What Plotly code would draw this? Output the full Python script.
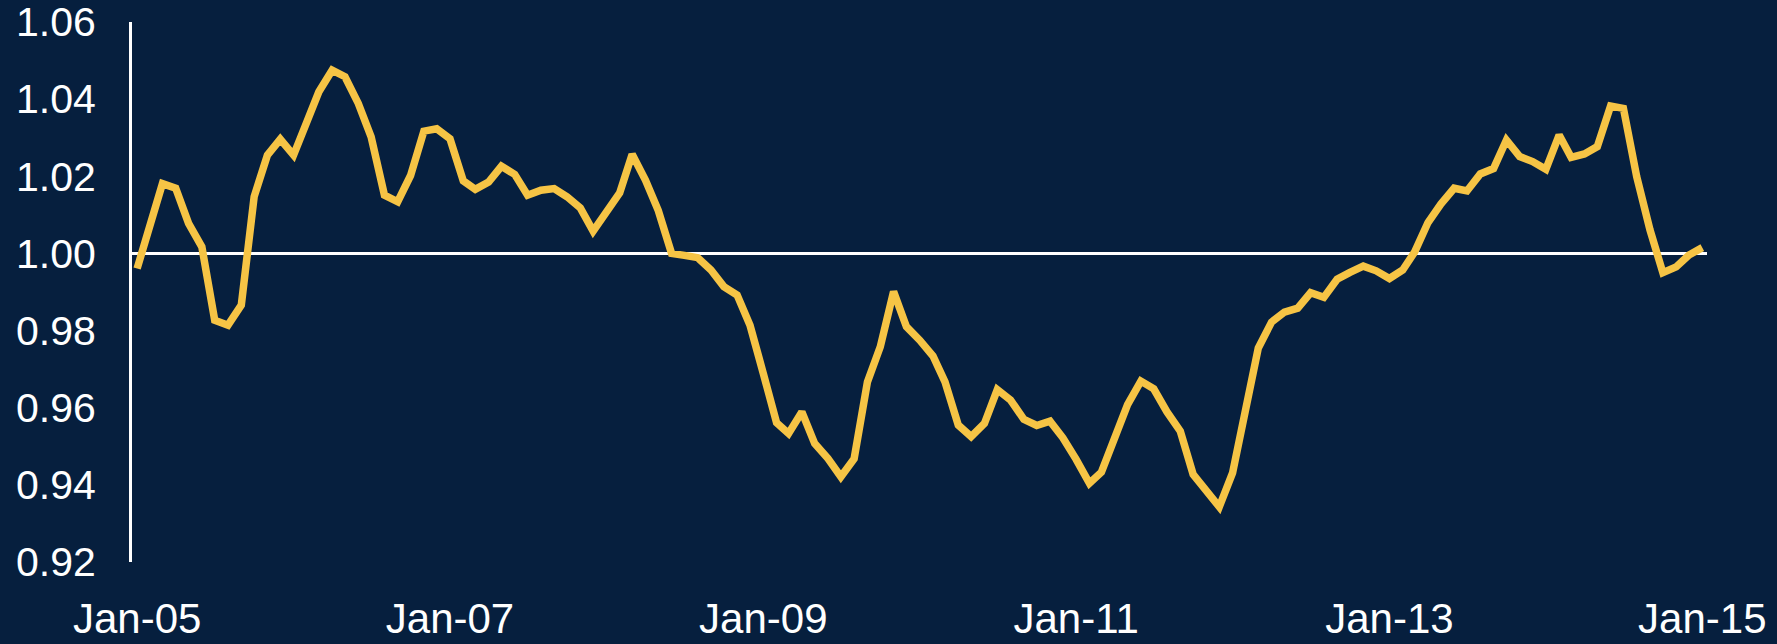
import pandas as pd
import plotly.graph_objects as go

dates = pd.date_range("2005-01-01", "2015-01-01", freq="MS")

values = [
    0.9961, 1.0086, 1.0181, 1.0169, 1.0078, 1.0017, 0.9827, 0.9814, 0.9866, 1.0147,
    1.0255, 1.0296, 1.0255, 1.0341, 1.0419, 1.0475, 1.0458, 1.0389, 1.0302, 1.0151,
    1.0134, 1.0202, 1.0317, 1.0323, 1.0297, 1.0188, 1.0166, 1.0185, 1.0226, 1.0205,
    1.0151, 1.0164, 1.0168, 1.0147, 1.0118, 1.0058, 1.0107, 1.0157, 1.0257, 1.0190,
    1.0111, 1.0000, 0.9995, 0.9989, 0.9957, 0.9914, 0.9892, 0.9814, 0.9689, 0.9561,
    0.9533, 0.9589, 0.9507, 0.9468, 0.9421, 0.9468, 0.9667, 0.9758, 0.9901, 0.9810,
    0.9775, 0.9734, 0.9667, 0.9555, 0.9525, 0.9559, 0.9647, 0.9620, 0.9570, 0.9554,
    0.9565, 0.9522, 0.9466, 0.9404, 0.9433, 0.9522, 0.9608, 0.9669, 0.9649, 0.9589,
    0.9539, 0.9427, 0.9384, 0.9343, 0.9431, 0.9591, 0.9755, 0.9822, 0.9848, 0.9858,
    0.9898, 0.9886, 0.9933, 0.9951, 0.9967, 0.9955, 0.9935, 0.9957, 1.0004, 1.0080,
    1.0128, 1.0169, 1.0162, 1.0206, 1.0220, 1.0294, 1.0251, 1.0238, 1.0218, 1.0307,
    1.0249, 1.0258, 1.0277, 1.0382, 1.0376, 1.0199, 1.0061, 0.9950, 0.9965, 0.9996,
    1.0015,
]

x_tick_dates = ["2005-01-01", "2007-01-01", "2009-01-01", "2011-01-01", "2013-01-01", "2015-01-01"]
x_tick_labels = ["Jan-05", "Jan-07", "Jan-09", "Jan-11", "Jan-13", "Jan-15"]
y_ticks = [0.92, 0.94, 0.96, 0.98, 1.00, 1.02, 1.04, 1.06]
baseline = 1.0

BG = "#061F3E"
LINE = "#F6C445"

fig = go.Figure()
fig.add_trace(go.Scatter(
    x=list(dates), y=values, mode="lines",
    line=dict(color=LINE, width=7.5), showlegend=False,
))
fig.add_hline(y=baseline, line=dict(color="white", width=3), layer="below")

fig.update_layout(
    width=1777, height=644,
    paper_bgcolor=BG, plot_bgcolor=BG,
    margin=dict(l=132, r=70, t=22, b=82),
    font=dict(family="Liberation Sans, Arial, sans-serif", size=40, color="white"),
    xaxis=dict(
        type="date",
        range=["2004-12-20", "2015-01-12"],
        tickvals=x_tick_dates, ticktext=x_tick_labels,
        showgrid=False, zeroline=False, showline=False,
        ticks="outside", ticklen=20, tickcolor="rgba(0,0,0,0)",
        tickfont=dict(size=42, color="white"),
        automargin=False, ticklabeloverflow="allow",
    ),
    yaxis=dict(
        range=[0.92, 1.06],
        tickvals=y_ticks, tickformat=".2f",
        showgrid=False, zeroline=False,
        showline=True, linecolor="white", linewidth=3,
        ticks="outside", ticklen=25, tickcolor="rgba(0,0,0,0)",
        tickfont=dict(size=41, color="white"),
        automargin=False, ticklabeloverflow="allow",
    ),
)

fig.write_html(
    "out.html",
    config={"displayModeBar": False},
    post_script="document.body.style.margin='0px';document.body.style.padding='0px';document.body.style.overflow='hidden';",
)
